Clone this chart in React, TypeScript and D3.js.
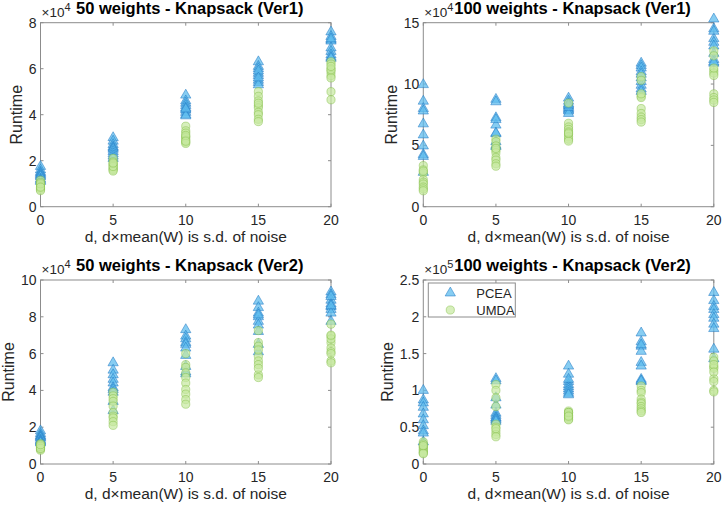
import * as d3 from 'd3';

// noise levels d
const noise = [0, 5, 10, 15, 20];

// Runtime values, one inner array per noise level (units of the panel's exponent)
const pcea50v1 = [
  [1.75, 1.6, 1.5, 1.45, 1.4, 1.35, 1.3, 1.2, 1.15, 1.1],
  [3.0, 2.85, 2.7, 2.6, 2.55, 2.5, 2.4, 2.3, 2.2, 2.1],
  [4.85, 4.6, 4.5, 4.4, 4.3, 4.2, 4.1, 4.0, 3.95, 4.25],
  [6.3, 6.1, 6.0, 5.8, 5.7, 5.5, 5.4, 5.3, 5.9, 5.6],
  [7.6, 7.4, 7.25, 7.2, 6.9, 6.75, 6.6, 6.5, 6.45, 7.3],
];
const umda50v1 = [
  [1.15, 1.05, 0.95, 0.9, 0.85, 0.8, 0.75, 0.7, 1.0, 0.85],
  [2.1, 1.95, 1.85, 1.8, 1.7, 1.65, 1.6, 1.55, 1.75, 1.9],
  [3.5, 3.3, 3.2, 3.05, 3.0, 2.9, 2.8, 2.75, 3.1, 2.85],
  [5.0, 4.8, 4.6, 4.4, 4.3, 4.1, 4.0, 3.8, 3.7, 4.5],
  [6.3, 6.2, 6.0, 5.85, 5.7, 5.6, 5.0, 4.65, 5.95, 6.1],
];
const pcea100v1 = [
  [9.95, 8.6, 8.0, 7.8, 6.75, 5.85, 4.95, 4.25, 4.1, 2.8],
  [8.75, 8.55, 7.25, 6.65, 5.95, 5.3, 5.0, 6.0, 7.1, 4.9],
  [8.85, 8.6, 8.4, 8.2, 8.0, 7.9, 7.8, 7.6, 8.1, 8.3],
  [11.7, 11.5, 11.3, 11.0, 10.5, 10.2, 9.9, 9.6, 9.4, 10.8],
  [15.3, 14.5, 13.7, 13.4, 13.1, 12.5, 12.0, 11.7, 11.8, 14.3],
];
const umda100v1 = [
  [3.35, 3.0, 2.75, 2.2, 2.0, 1.85, 1.6, 1.45, 1.3, 2.9],
  [5.5, 5.3, 4.95, 4.6, 4.4, 4.0, 3.8, 3.5, 3.3, 4.75],
  [8.45, 6.8, 6.5, 6.3, 6.1, 5.9, 5.7, 5.5, 5.35, 6.0],
  [10.6, 10.3, 9.0, 8.9, 8.0, 7.6, 7.3, 7.1, 6.9, 9.2],
  [12.7, 12.3, 11.1, 10.9, 10.7, 9.2, 8.9, 8.7, 8.5, 11.3],
];
const pcea50v2 = [
  [1.8, 1.65, 1.55, 1.5, 1.45, 1.4, 1.3, 1.25, 1.2, 1.15],
  [5.5, 5.1, 4.85, 4.6, 4.4, 4.15, 4.05, 3.9, 3.4, 2.9],
  [7.3, 6.95, 6.8, 6.6, 6.5, 6.3, 5.9, 5.3, 5.0, 4.9],
  [8.85, 8.5, 8.2, 8.0, 7.75, 7.55, 7.2, 6.5, 6.1, 8.1],
  [9.35, 9.2, 8.9, 8.7, 8.55, 8.4, 8.2, 7.75, 8.6, 9.1],
];
const umda50v2 = [
  [1.1, 1.0, 0.95, 0.9, 0.85, 0.8, 0.75, 0.95, 0.85, 1.05],
  [3.9, 3.7, 3.55, 3.4, 3.15, 2.8, 2.6, 2.5, 2.3, 2.1],
  [6.0, 5.4, 5.25, 4.95, 4.7, 4.4, 4.05, 3.8, 3.5, 3.25],
  [7.25, 6.6, 6.4, 5.85, 5.6, 5.4, 4.85, 4.7, 6.2, 5.2],
  [7.6, 6.95, 6.6, 6.3, 6.1, 6.0, 5.6, 5.5, 6.8, 7.0],
];
const pcea100v2 = [
  [1.0, 0.87, 0.83, 0.77, 0.68, 0.6, 0.52, 0.45, 0.42, 0.3],
  [1.16, 1.13, 0.8, 0.69, 0.66, 0.63, 0.62, 0.6, 0.58, 0.9],
  [1.33, 1.22, 1.12, 1.08, 1.05, 1.02, 0.99, 0.96, 0.94, 1.15],
  [1.78, 1.66, 1.6, 1.53, 1.38, 1.33, 1.15, 1.12, 1.13, 1.62],
  [2.33, 2.22, 2.14, 2.1, 2.03, 1.98, 1.9, 1.84, 1.56, 1.43],
];
const umda100v2 = [
  [0.3, 0.27, 0.24, 0.22, 0.2, 0.18, 0.16, 0.15, 0.14, 0.25],
  [1.08, 1.0, 0.9, 0.78, 0.54, 0.5, 0.44, 0.4, 0.37, 0.48],
  [0.72, 0.7, 0.68, 0.66, 0.64, 0.63, 0.61, 0.6, 0.7, 0.65],
  [1.06, 1.0, 0.97, 0.88, 0.84, 0.82, 0.78, 0.75, 0.72, 0.7],
  [1.45, 1.4, 1.32, 1.3, 1.16, 1.12, 1.0, 0.98, 1.35, 1.25],
];

const titles = [
  '50 weights - Knapsack (Ver1)',
  '100 weights - Knapsack (Ver1)',
  '50 weights - Knapsack (Ver2)',
  '100 weights - Knapsack (Ver2)',
];
const yTicks1 = [0, 2, 4, 6, 8];
const yTicks2 = [0, 5, 10, 15];
const yTicks3 = [0, 2, 4, 6, 8, 10];
const yTicks4 = [0, 0.5, 1, 1.5, 2, 2.5];
const exponents = [4, 4, 4, 5];
const legendLabels = ['PCEA', 'UMDA'];

const W = 722;
const H = 507;
const font = '"Liberation Sans", Arial, Helvetica, sans-serif';
const textColor = '#262626';
const boxColor = '#8c8c8c';
const tickSize = 14;

const triFill = 'rgba(95,188,238,0.75)';
const triStroke = 'rgba(30,120,195,0.65)';
const cirFill = 'rgba(198,232,160,0.7)';
const cirStroke = 'rgba(130,190,70,0.6)';

const triangle = d3.symbol(d3.symbolTriangle, 46)() ?? '';

// rough width of a tick label, used to place the y label like MATLAB does
const labelWidth = (s: string) =>
  s.split('').reduce((a, c) => a + (c === '.' ? 0.278 : 0.556), 0) * tickSize;

type PanelProps = {
  left: number;
  top: number;
  w: number;
  h: number;
  title: string;
  ticks: number[];
  exp: number;
  pcea: number[][];
  umda: number[][];
  legend?: boolean;
};

function Panel({ left, top, w, h, title, ticks, exp, pcea, umda, legend }: PanelProps) {
  const x = d3.scaleLinear([0, 20], [0, w]);
  const y = d3.scaleLinear([0, ticks[ticks.length - 1]], [h, 0]);
  const tl = 3;
  const ylabOff = -(d3.max(ticks, (t) => labelWidth(String(t))) ?? 0) - 11;
  return (
    <g transform={`translate(${left},${top})`} fontFamily={font}>
      <rect x={0} y={0} width={w} height={h} fill="white" stroke={boxColor} strokeWidth={1} />
      {noise.map((d) => (
        <g key={'xt' + d}>
          <line x1={x(d)} x2={x(d)} y1={h} y2={h - tl} stroke={boxColor} />
          <line x1={x(d)} x2={x(d)} y1={0} y2={tl} stroke={boxColor} />
          <text x={x(d)} y={h + 18} fontSize={tickSize} textAnchor="middle" fill={textColor}>
            {d}
          </text>
        </g>
      ))}
      {ticks.map((t) => (
        <g key={'yt' + t}>
          <line x1={0} x2={tl} y1={y(t)} y2={y(t)} stroke={boxColor} />
          <line x1={w} x2={w - tl} y1={y(t)} y2={y(t)} stroke={boxColor} />
          <text x={-4} y={y(t) + 5} fontSize={tickSize} textAnchor="end" fill={textColor}>
            {t}
          </text>
        </g>
      ))}
      <text x={1} y={-6} fontSize={13.5} fill={textColor}>
        ×10<tspan dy={-6} fontSize={11}>{exp}</tspan>
      </text>
      <text x={w / 2 + 4} y={-9} fontSize={16.5} fontWeight="bold" textAnchor="middle" fill="black">
        {title}
      </text>
      <text x={w / 2} y={h + 35} fontSize={15.5} textAnchor="middle" fill={textColor}>
        d, d×mean(W) is s.d. of noise
      </text>
      <text
        transform={`translate(${ylabOff},${h / 2}) rotate(-90)`}
        fontSize={16}
        textAnchor="middle"
        fill={textColor}
      >
        Runtime
      </text>
      {pcea.map((vals, i) =>
        vals.map((v, j) => (
          <path
            key={`p${i}-${j}`}
            d={triangle}
            transform={`translate(${x(noise[i])},${y(v)})`}
            fill={triFill}
            stroke={triStroke}
            strokeWidth={0.8}
          />
        ))
      )}
      {umda.map((vals, i) =>
        vals.map((v, j) => (
          <circle
            key={`u${i}-${j}`}
            cx={x(noise[i])}
            cy={y(v)}
            r={4.1}
            fill={cirFill}
            stroke={cirStroke}
            strokeWidth={0.8}
          />
        ))
      )}
      {legend && (
        <g transform="translate(5,3)">
          <rect x={0} y={0} width={87} height={34} fill="white" stroke={boxColor} />
          <path d={triangle} transform="translate(22,10)" fill={triFill} stroke={triStroke} strokeWidth={0.8} />
          <text x={48} y={15} fontSize={13} fill={textColor}>
            {legendLabels[0]}
          </text>
          <circle cx={22} cy={27} r={4.1} fill={cirFill} stroke={cirStroke} strokeWidth={0.8} />
          <text x={48} y={31.5} fontSize={13} fill={textColor}>
            {legendLabels[1]}
          </text>
        </g>
      )}
    </g>
  );
}

export default function App() {
  const pw = 290.5;
  const ph = 184;
  return (
    <svg
      width={W}
      height={H}
      style={{ position: 'absolute', left: 0, top: 0, background: 'white' }}
    >
      <rect width={W} height={H} fill="white" />
      <Panel left={40.5} top={22.7} w={pw} h={ph} title={titles[0]} ticks={yTicks1} exp={exponents[0]} pcea={pcea50v1} umda={umda50v1} />
      <Panel left={423.3} top={22.7} w={pw} h={ph} title={titles[1]} ticks={yTicks2} exp={exponents[1]} pcea={pcea100v1} umda={umda100v1} />
      <Panel left={40.5} top={280} w={pw} h={ph} title={titles[2]} ticks={yTicks3} exp={exponents[2]} pcea={pcea50v2} umda={umda50v2} />
      <Panel left={423.3} top={280} w={pw} h={ph} title={titles[3]} ticks={yTicks4} exp={exponents[3]} pcea={pcea100v2} umda={umda100v2} legend />
    </svg>
  );
}
